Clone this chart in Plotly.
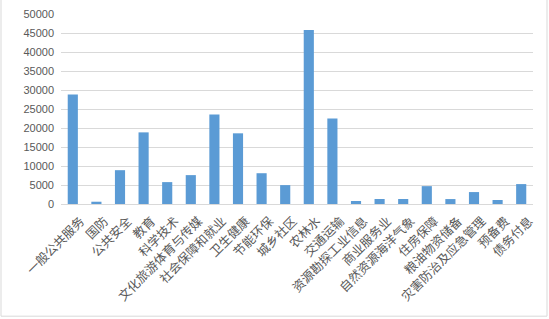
import plotly.graph_objects as go

categories = ["一般公共服务", "国防", "公共安全", "教育", "科学技术", "文化旅游体育与传媒",
              "社会保障和就业", "卫生健康", "节能环保", "城乡社区", "农林水", "交通运输",
              "资源勘探工业信息", "商业服务业", "自然资源海洋气象", "住房保障", "粮油物资储备",
              "灾害防治及应急管理", "预备费", "债务付息"]
values = [28800, 600, 8900, 18850, 5760, 7600, 23550, 18600, 8100, 4970, 45800, 22500,
          790, 1310, 1310, 4700, 1300, 3140, 1050, 5240]
y_ticks = [0, 5000, 10000, 15000, 20000, 25000, 30000, 35000, 40000, 45000, 50000]

W, H = 549, 319
L, R, T, B = 61, 533, 14.3, 204.3

fig = go.Figure(go.Bar(x=categories, y=values, marker_color="#5B9BD5",
                       marker_line_width=0))

fig.update_layout(
    width=W, height=H,
    margin=dict(l=L, r=W - R, t=T, b=H - B, autoexpand=False),
    paper_bgcolor="white", plot_bgcolor="white",
    bargap=0.57,
    showlegend=False,
    font=dict(family="Liberation Sans, Noto Sans CJK SC", color="#595959", size=11),
    xaxis=dict(tickangle=-45, showgrid=False, showline=True, linecolor="#D9D9D9",
               linewidth=1, ticks="", automargin=False, ticklabelstandoff=4,
               ticklabelshift=8,
               tickfont=dict(size=12.5, color="#595959", family="Noto Sans CJK SC")),
    yaxis=dict(range=[0, 50000], tickvals=y_ticks, ticktext=[str(v) for v in y_ticks],
               showgrid=True, gridcolor="#D9D9D9",
               gridwidth=1, zeroline=False, showline=False, ticks="", automargin=False,
               tickfont=dict(size=11, color="#595959"), ticklabelstandoff=6),
)

fig.add_shape(type="rect", xref="paper", yref="paper",
              x0=(1 - L) / (R - L), x1=(547 - L) / (R - L),
              y0=(B - 316.5) / (B - T), y1=(B + 5) / (B - T),
              line=dict(color="#D9D9D9", width=1), layer="below")

fig.write_html("out.html")
